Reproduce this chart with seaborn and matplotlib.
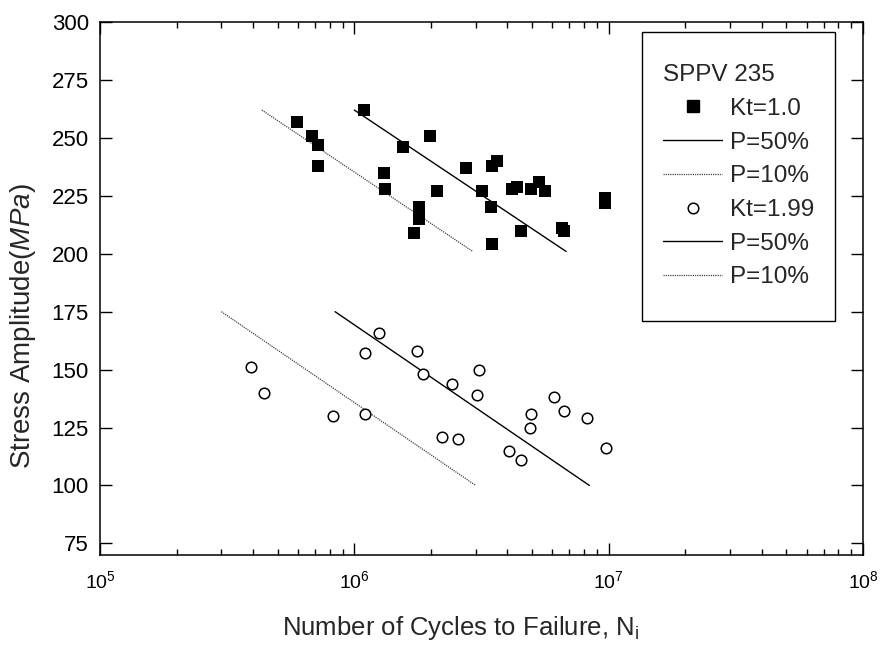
import numpy as np
import pandas as pd
import matplotlib
matplotlib.use("Agg")
import matplotlib.pyplot as plt
import seaborn as sns
from matplotlib.lines import Line2D
from matplotlib.offsetbox import DrawingArea
from matplotlib.ticker import LogLocator, FixedLocator, NullFormatter, LogFormatterSciNotation

# ---- data ----
kt1_cycles = [5.93e5, 6.82e5, 7.22e5, 7.20e5, 1.09e6, 1.31e6, 1.32e6, 1.55e6, 1.99e6,
              1.79e6, 1.80e6, 1.71e6, 2.12e6, 2.75e6, 3.49e6, 3.63e6, 3.18e6, 3.45e6,
              3.48e6, 4.53e6, 4.18e6, 4.37e6, 4.95e6, 5.34e6, 5.60e6, 6.53e6, 6.69e6,
              9.68e6, 9.68e6]
kt1_stress = [257, 251, 247, 238, 262, 235, 228, 246, 251,
              220, 215, 209, 227, 237, 238, 240, 227, 220,
              204, 210, 228, 229, 228, 231, 227, 211, 210,
              224, 222]

kt199_cycles = [3.92e5, 4.41e5, 8.22e5, 1.10e6, 1.10e6, 1.25e6, 1.77e6, 1.87e6, 2.42e6,
                3.10e6, 3.03e6, 2.22e6, 2.55e6, 4.05e6, 4.51e6, 4.95e6, 4.91e6, 6.12e6,
                6.70e6, 8.20e6, 9.77e6]
kt199_stress = [151, 140, 130, 131, 157, 166, 158, 148, 144,
                150, 139, 121, 120, 115, 111, 131, 125, 138,
                132, 129, 116]

kt1_p50_cycles = [1.0e6, 6.8e6]
kt1_p50_stress = [262, 201]
kt1_p10_cycles = [4.33e5, 2.92e6]
kt1_p10_stress = [262, 201]
kt199_p50_cycles = [8.4e5, 8.4e6]
kt199_p50_stress = [175, 100]
kt199_p10_cycles = [3.0e5, 3.0e6]
kt199_p10_stress = [175, 100]

legend_title = "SPPV 235"
legend_labels = ["Kt=1.0", "P=50%", "P=10%", "Kt=1.99", "P=50%", "P=10%"]
y_ticks = [75, 100, 125, 150, 175, 200, 225, 250, 275, 300]

# ---- style ----
sns.set_style("ticks")
plt.rcParams['font.family'] = ['Liberation Sans', 'DejaVu Sans']
plt.rcParams['mathtext.fontset'] = 'custom'
plt.rcParams['mathtext.rm'] = 'Liberation Sans'
plt.rcParams['mathtext.it'] = 'Liberation Sans:italic'
plt.rcParams['mathtext.bf'] = 'Liberation Sans:bold'

fig = plt.figure(figsize=(8.83, 6.51), dpi=100)
ax = fig.add_axes([100 / 883, 1 - 555 / 651, 763 / 883, 533 / 651])

df1 = pd.DataFrame({"N": kt1_cycles, "S": kt1_stress})
df2 = pd.DataFrame({"N": kt199_cycles, "S": kt199_stress})

solid_kw = dict(color="black", linewidth=1.0, linestyle="-")
dot_kw = dict(color="#444444", linewidth=0.9, linestyle=(0, (1, 0.8)))

sns.lineplot(x=kt1_p50_cycles, y=kt1_p50_stress, ax=ax, estimator=None, sort=False, legend=False, **solid_kw)
sns.lineplot(x=kt1_p10_cycles, y=kt1_p10_stress, ax=ax, estimator=None, sort=False, legend=False, **dot_kw)
sns.lineplot(x=kt199_p50_cycles, y=kt199_p50_stress, ax=ax, estimator=None, sort=False, legend=False, **solid_kw)
sns.lineplot(x=kt199_p10_cycles, y=kt199_p10_stress, ax=ax, estimator=None, sort=False, legend=False, **dot_kw)

sns.scatterplot(data=df1, x="N", y="S", ax=ax, marker="s", s=70, color="black",
                edgecolor="black", linewidth=0, legend=False, zorder=3)
sns.scatterplot(data=df2, x="N", y="S", ax=ax, marker="o", s=58, facecolor="white",
                edgecolor="black", linewidth=1.1, legend=False, zorder=3)

ax.set_xscale("log")
ax.set_xlim(1e5, 1e8)
ax.set_ylim(70, 300)
ax.xaxis.set_major_locator(LogLocator(base=10, numticks=10))
ax.xaxis.set_major_formatter(LogFormatterSciNotation())
ax.xaxis.set_minor_locator(LogLocator(base=10, subs=np.arange(2, 10), numticks=20))
ax.xaxis.set_minor_formatter(NullFormatter())
ax.yaxis.set_major_locator(FixedLocator(y_ticks))

for sp in ax.spines.values():
    sp.set_visible(True)
    sp.set_linewidth(1.1)
    sp.set_color("black")

ax.tick_params(which="both", direction="in", top=True, right=True, colors="black", width=1.0)
ax.tick_params(which="major", length=8.5)
ax.tick_params(which="minor", length=4.3)
ax.tick_params(axis="y", pad=8, labelsize=16)
ax.tick_params(axis="x", pad=11, labelsize=14)

ax.set_xlabel(r"Number of Cycles to Failure, N$_\mathregular{i}$", fontsize=18.5)
ax.set_ylabel(r"Stress Amplitude($\mathit{MPa}$)", fontsize=20)
ax.yaxis.set_label_coords(-0.081, 0.43)
ax.xaxis.set_label_coords(0.473, -0.110)

handles = [
    Line2D([], [], marker="s", color="black", linestyle="none", markersize=8.4),
    Line2D([], [], **solid_kw),
    Line2D([], [], **dot_kw),
    Line2D([], [], marker="o", markerfacecolor="white", markeredgecolor="black",
           markeredgewidth=1.1, linestyle="none", markersize=7.6),
    Line2D([], [], **solid_kw),
    Line2D([], [], **dot_kw),
]
leg = ax.legend(handles, legend_labels, title=legend_title, loc="upper right",
                bbox_to_anchor=((835 - 100) / 763, 1 - (32 - 22) / 533),
                borderaxespad=0, frameon=True, fancybox=False, edgecolor="black",
                framealpha=1, fontsize=17.5, title_fontsize=17.5, handlelength=2.45,
                handletextpad=0.32, labelspacing=0.48, borderpad=0.85,
                alignment="left")
leg.get_frame().set_linewidth(1.0)
# extra space above the title and below the last entry (as in the reference box)
try:
    leg._legend_box._children.insert(0, DrawingArea(0, 0))
    leg._legend_box._children.append(DrawingArea(0, 0))
except Exception:
    pass

fig.savefig("out.png", dpi=100)
